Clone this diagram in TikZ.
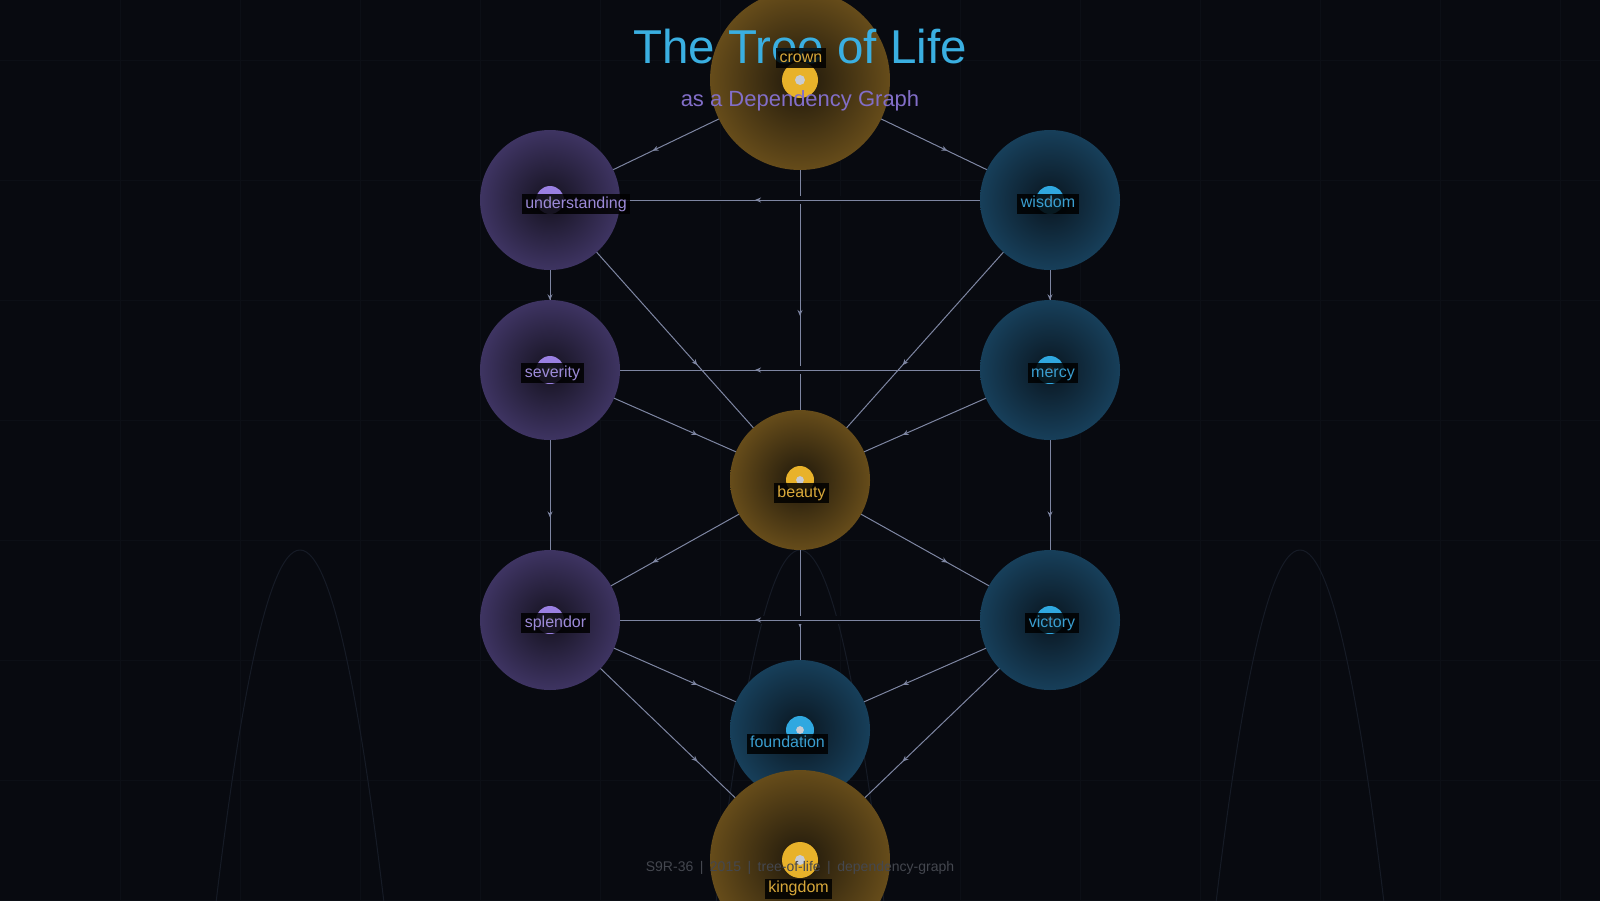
\documentclass[tikz,border=0pt]{standalone}
\usepackage{fontspec}
\setmainfont{Liberation Sans}
\usetikzlibrary{arrows.meta,decorations.markings}

\definecolor{bgc}{HTML}{080A10}
\definecolor{gridc}{HTML}{0C0F16}
\definecolor{archc}{HTML}{161B26}
\definecolor{edgec}{HTML}{7E86A2}
\definecolor{outviolet}{HTML}{3E3462}
\definecolor{inviolet}{HTML}{15121F}
\definecolor{dotviolet}{HTML}{9A80E2}
\definecolor{textviolet}{HTML}{9C8AD8}
\definecolor{outblue}{HTML}{173F5A}
\definecolor{inblue}{HTML}{0A1620}
\definecolor{dotblue}{HTML}{30A8E0}
\definecolor{textblue}{HTML}{3A9ED0}
\definecolor{outgold}{HTML}{664C1A}
\definecolor{ingold}{HTML}{1F180B}
\definecolor{dotgold}{HTML}{E8B22A}
\definecolor{textgold}{HTML}{D8A83A}
\definecolor{hubc}{HTML}{C8CCD4}
\definecolor{titlec}{HTML}{3AAFE1}
\definecolor{subc}{HTML}{826EC8}
\definecolor{footc}{HTML}{44474F}

\newcommand{\footsep}{\hspace{6.5pt}|\hspace{6.5pt}}

\pgfdeclarelayer{bg}
\pgfdeclarelayer{edges}
\pgfsetlayers{bg,edges,main}

\tikzset{
	orb/.style={circle, draw=none, inner sep=0pt, minimum size=#1, shade},
	edge/.style={draw=edgec, line width=1pt, postaction={decorate},
		decoration={markings, mark=at position 0.59 with {\arrow{Stealth[length=6pt,width=5pt]}}}},
	cased/.style={preaction={draw=bgc, line width=8pt}},
	tag/.style={fill=black, fill opacity=0.85, text opacity=1, inner xsep=3.5pt, inner ysep=0pt,
		minimum height=20pt, text height=12pt, text depth=4pt, font=\fontsize{16}{16}\selectfont}
}

\begin{document}
\begin{tikzpicture}[x=1pt,y=-1pt]
	\useasboundingbox (0,0) rectangle (1600,900);

	\begin{pgfonlayer}{bg}
		\fill[bgc] (0,0) rectangle (1600,900);
		\foreach \x in {120,240,...,1560}
		\draw[gridc, line width=0.8pt] (\x,0) -- (\x,900);
		\foreach \y in {60,180,...,900}
		\draw[gridc, line width=0.8pt] (0,\y) -- (1600,\y);
		\foreach \x in {300,800,1300}
		\draw[archc, line width=1pt] plot[variable=\t, domain=-95:95, samples=61, smooth] ({\x+\t},{550+\t*\t/20});
	\end{pgfonlayer}

	% the ten spheres
	\foreach \n/\x/\y/\r/\c in {crown/800/80/90/gold, understanding/550/200/70/violet, wisdom/1050/200/70/blue,
		severity/550/370/70/violet, mercy/1050/370/70/blue, beauty/800/480/70/gold,
		splendor/550/620/70/violet, victory/1050/620/70/blue, foundation/800/730/70/blue, kingdom/800/860/90/gold}
	\node[orb=2*\r, inner color=in\c, outer color=out\c] (\n) at (\x,\y) {};

	\begin{pgfonlayer}{edges}
		\draw[edge] (crown.center) -- (beauty.center);
		\draw[edge] (beauty.center) -- (foundation.center);
		\foreach \a/\b in {wisdom/understanding, mercy/severity, victory/splendor}
		\draw[edge, cased] (\a.center) -- (\b.center);
		\foreach \a/\b in {crown/understanding, crown/wisdom, understanding/severity, wisdom/mercy,
			understanding/beauty, wisdom/beauty, severity/beauty, mercy/beauty, severity/splendor, mercy/victory,
			beauty/splendor, beauty/victory, splendor/foundation, victory/foundation,
			splendor/kingdom, victory/kingdom}
		\draw[edge] (\a.center) -- (\b.center);
	\end{pgfonlayer}

	\foreach \n/\r/\c in {crown/90/gold, understanding/70/violet, wisdom/70/blue, severity/70/violet, mercy/70/blue,
		beauty/70/gold, splendor/70/violet, victory/70/blue, foundation/70/blue, kingdom/90/gold}
	{
		\fill[dot\c] (\n) circle (\r/5);
		\fill[hubc] (\n) circle (\r/18);
	}

	\node[font=\fontsize{47.5}{57}\selectfont, text=titlec, anchor=base] (title) at (800,63) {The Tree of Life};
	\node[font=\fontsize{22}{26}\selectfont, text=subc, anchor=base] (subtitle) at (800,106) {as a Dependency Graph};

	\foreach \n/\c/\lx/\ly in {crown/gold/1/-22, understanding/violet/26/4, wisdom/blue/-2/3.5, severity/violet/2.5/3,
		mercy/blue/3/3, beauty/gold/1.5/13, splendor/violet/5.5/3, victory/blue/2/3,
		foundation/blue/-12.5/13.5, kingdom/gold/-1.5/28.5}
	\node[tag, text=text\c] (\n-tag) at ([shift={(\lx,\ly)}]\n.center) {\n};

	\node[font=\fontsize{14}{14}\selectfont, text=footc, anchor=base] (footer) at (800,871)
		{S9R-36\footsep 2015\footsep tree-of-life\footsep dependency-graph};
\end{tikzpicture}
\end{document}
